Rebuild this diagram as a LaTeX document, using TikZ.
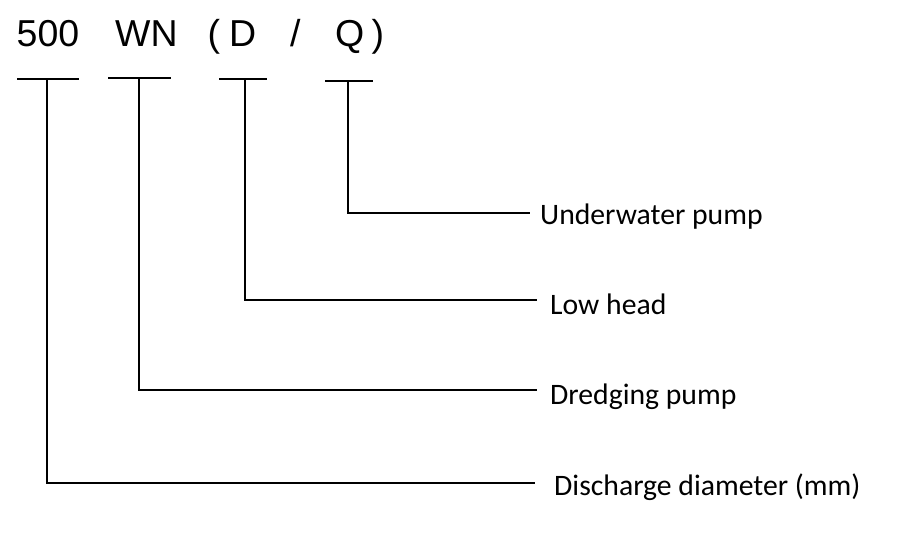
\documentclass[tikz,border=0pt]{standalone}
\usepackage{fontspec}
\setmainfont{Carlito}
\newfontfamily\codefont{Liberation Sans}

\begin{document}
\begin{tikzpicture}[x=1pt, y=-1pt]
\tikzstyle{vertexc}=[anchor=base west, inner sep=0pt, font=\codefont\fontsize{37.5}{42}\selectfont]
\tikzstyle{vertexl}=[anchor=base west, inner sep=0pt, font=\fontsize{29.7}{35}\selectfont]
\tikzstyle{drawstyle}=[line width=1.5pt]
\useasboundingbox (0,0) rectangle (900,534);

\node[vertexc] (C0) at (16.5,47) {500};
\node[vertexc] (C1) at (115,47) {WN};
\node[vertexc] (C2) at (207.5,47) {(};
\node[vertexc] (C3) at (229,47) {D};
\node[vertexc] (C4) at (290,47) {/};
\node[vertexc] (C5) at (335,47) {Q};
\node[vertexc] (C6) at (371.5,47) {)};

\node[vertexl] (L0) at (554,496) {Discharge diameter (mm)};
\node[vertexl] (L1) at (550,405) {Dredging pump};
\node[vertexl] (L2) at (550,315) {Low head};
\node[vertexl] (L3) at (540,225) {Underwater pump};

\coordinate (B0w) at (17,79);
\coordinate (B0e) at (79,79);
\coordinate (B0) at (47,79);
\coordinate (E0) at (535,483);
\draw[drawstyle] (B0w) -- (B0e);
\draw[drawstyle] (B0) |- (E0);
\coordinate (B1w) at (108,78);
\coordinate (B1e) at (171,78);
\coordinate (B1) at (139,78);
\coordinate (E1) at (537,390);
\draw[drawstyle] (B1w) -- (B1e);
\draw[drawstyle] (B1) |- (E1);
\coordinate (B2w) at (219,79);
\coordinate (B2e) at (267,79);
\coordinate (B2) at (245,79);
\coordinate (E2) at (537,300);
\draw[drawstyle] (B2w) -- (B2e);
\draw[drawstyle] (B2) |- (E2);
\coordinate (B3w) at (325,81);
\coordinate (B3e) at (373,81);
\coordinate (B3) at (348,81);
\coordinate (E3) at (530,213);
\draw[drawstyle] (B3w) -- (B3e);
\draw[drawstyle] (B3) |- (E3);
\end{tikzpicture}
\end{document}
